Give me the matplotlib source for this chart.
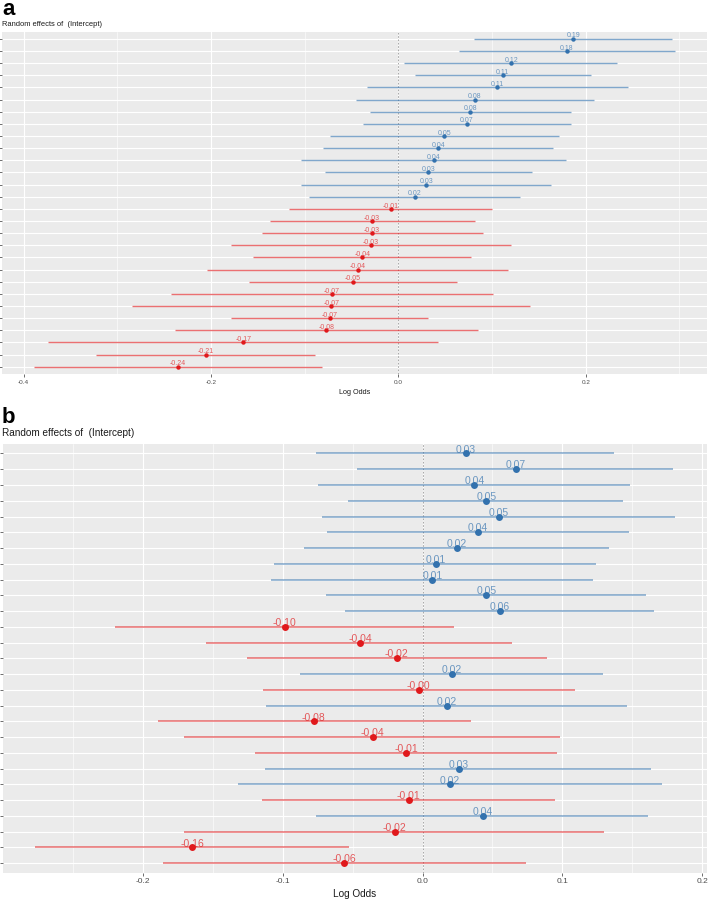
import matplotlib
matplotlib.use('Agg')
import matplotlib.pyplot as plt
from matplotlib.ticker import FixedLocator

plt.rcParams['font.family'] = ['Liberation Sans', 'DejaVu Sans']

# ---------------- Panel a data ----------------
a_est = [0.1867, 0.1796, 0.1204, 0.1112, 0.1055, 0.0817, 0.0768, 0.0729, 0.0491, 0.0424,
         0.0378, 0.0321, 0.0300, 0.0176, -0.0080, -0.0279, -0.0279, -0.0296, -0.0385, -0.0434,
         -0.0484, -0.0707, -0.0715, -0.0732, -0.0768, -0.1654, -0.2051, -0.2355]
a_lo = [0.0810, 0.0644, 0.0062, 0.0179, -0.0338, -0.0452, -0.0303, -0.0378, -0.0732, -0.0803,
        -0.1037, -0.0782, -0.1040, -0.0949, -0.1168, -0.1374, -0.1460, -0.1790, -0.1551, -0.2037,
        -0.1598, -0.2423, -0.2843, -0.1782, -0.2381, -0.3736, -0.3226, -0.3888]
a_hi = [0.2917, 0.2949, 0.2332, 0.2055, 0.2449, 0.2083, 0.1842, 0.1842, 0.1715, 0.1654,
        0.1789, 0.1424, 0.1633, 0.1296, 0.1002, 0.0821, 0.0906, 0.1200, 0.0779, 0.1172,
        0.0630, 0.1009, 0.1410, 0.0317, 0.0853, 0.0420, -0.0885, -0.0817]
a_labels = ['0.19', '0.18', '0.12', '0.11', '0.11', '0.08', '0.08', '0.07', '0.05', '0.04',
            '0.04', '0.03', '0.03', '0.02', '-0.01', '-0.03', '-0.03', '-0.03', '-0.04', '-0.04',
            '-0.05', '-0.07', '-0.07', '-0.07', '-0.08', '-0.17', '-0.21', '-0.24']
a_xticks = [-0.4, -0.2, 0.0, 0.2]
a_xticklabels = ['-0.4', '-0.2', '0.0', '0.2']
a_xminor = [-0.3, -0.1, 0.1, 0.3]

# ---------------- Panel b data ----------------
b_est = [0.0307, 0.0666, 0.0369, 0.0457, 0.0543, 0.0397, 0.0247, 0.0095, 0.0069, 0.0457,
         0.0552, -0.0986, -0.0445, -0.0186, 0.0209, -0.0029, 0.0174, -0.0779, -0.0357, -0.0117,
         0.0257, 0.0195, -0.0100, 0.0431, -0.0200, -0.1648, -0.0560]
b_lo = [-0.0762, -0.0469, -0.0750, -0.0531, -0.0719, -0.0684, -0.0850, -0.1060, -0.1084, -0.0691,
        -0.0553, -0.2198, -0.1548, -0.1260, -0.0874, -0.1140, -0.1119, -0.1893, -0.1705, -0.1198,
        -0.1126, -0.1321, -0.1150, -0.0762, -0.1705, -0.2774, -0.1860]
b_hi = [0.1369, 0.1795, 0.1483, 0.1436, 0.1804, 0.1479, 0.1336, 0.1243, 0.1221, 0.1600,
        0.1654, 0.0221, 0.0643, 0.0890, 0.1290, 0.1088, 0.1464, 0.0345, 0.0983, 0.0959,
        0.1636, 0.1716, 0.0947, 0.1614, 0.1300, -0.0524, 0.0740]
b_labels = ['0.03', '0.07', '0.04', '0.05', '0.05', '0.04', '0.02', '0.01', '0.01', '0.05',
            '0.06', '-0.10', '-0.04', '-0.02', '0.02', '-0.00', '0.02', '-0.08', '-0.04', '-0.01',
            '0.03', '0.02', '-0.01', '0.04', '-0.02', '-0.16', '-0.06']
b_xticks = [-0.2, -0.1, 0.0, 0.1, 0.2]
b_xticklabels = ['-0.2', '-0.1', '0.0', '0.1', '0.2']
b_xminor = [-0.25, -0.15, -0.05, 0.05, 0.15]

BLUE = '#3372ae'
RED = '#e0191c'

W, H = 709, 899
fig = plt.figure(figsize=(W / 100, H / 100), dpi=100)


def panel(rect_px, est, lo, hi, labels, xticks, xticklabels, xminor,
          lw, ms, lab_fs, tick_fs, xlab_fs, lab_off):
    l, t, r, b = rect_px
    ax = fig.add_axes([l / W, 1 - b / H, (r - l) / W, (b - t) / H])
    ax.set_facecolor('#ebebeb')
    n = len(est)
    ys = list(range(n - 1, -1, -1))
    for y, e, a, h, s in zip(ys, est, lo, hi, labels):
        c = BLUE if e > 0 else RED
        ax.plot([a, h], [y, y], color=c, lw=lw, alpha=0.62, solid_capstyle='butt', zorder=3)
        ax.plot([e], [y], 'o', color=c, ms=ms, mec='none', zorder=4)
        ax.annotate(s, (e, y), xytext=(0, lab_off), textcoords='offset points',
                    ha='center', va='bottom', fontsize=lab_fs, color=c, alpha=0.7, zorder=5)
    allv = lo + hi
    mn, mx = min(allv), max(allv)
    pad = (mx - mn) * 0.05
    ax.set_xlim(mn - pad, mx + pad)
    ax.set_ylim(-0.6, n - 1 + 0.6)
    ax.axvline(0, color='#9a9a9a', lw=0.6, ls=(0, (2, 2)), zorder=2)
    ax.set_xticks(xticks)
    ax.set_xticklabels(xticklabels)
    ax.xaxis.set_minor_locator(FixedLocator(xminor))
    ax.set_yticks(ys)
    ax.set_yticklabels([])
    ax.grid(True, which='major', color='white', lw=0.8, zorder=1)
    ax.grid(True, which='minor', axis='x', color='white', lw=0.4, zorder=1)
    ax.set_axisbelow(True)
    ax.tick_params(axis='x', which='major', length=2, width=0.5, color='#333333',
                   labelsize=tick_fs, labelcolor='#4d4d4d', pad=2)
    ax.tick_params(axis='y', which='major', length=2, width=0.5, color='#333333')
    ax.tick_params(which='minor', length=0)
    for sp in ax.spines.values():
        sp.set_visible(False)
    ax.set_xlabel('Log Odds', fontsize=xlab_fs, color='#1a1a1a', labelpad=3)
    return ax


panel((2, 31.5, 706.7, 374), a_est, a_lo, a_hi, a_labels, a_xticks, a_xticklabels, a_xminor,
      lw=1.0, ms=3.2, lab_fs=5.0, tick_fs=4.6, xlab_fs=5.2, lab_off=-0.5)
panel((3, 444, 706.7, 872.7), b_est, b_lo, b_hi, b_labels, b_xticks, b_xticklabels, b_xminor,
      lw=1.1, ms=5.0, lab_fs=7.5, tick_fs=6.0, xlab_fs=7.2, lab_off=-0.8)

fig.text(2 / W, 1 - 15 / H, 'a', fontsize=16, fontweight='bold', va='baseline', ha='left')
fig.text(2 / W, 1 - 24.5 / H, 'Random effects of  (Intercept)', fontsize=5.4, va='center', ha='left',
         color='#1a1a1a')
fig.text(2 / W, 1 - 423 / H, 'b', fontsize=16, fontweight='bold', va='baseline', ha='left')
fig.text(2 / W, 1 - 433.5 / H, 'Random effects of  (Intercept)', fontsize=7.2, va='center', ha='left',
         color='#1a1a1a')

fig.savefig('out.png', dpi=100)
